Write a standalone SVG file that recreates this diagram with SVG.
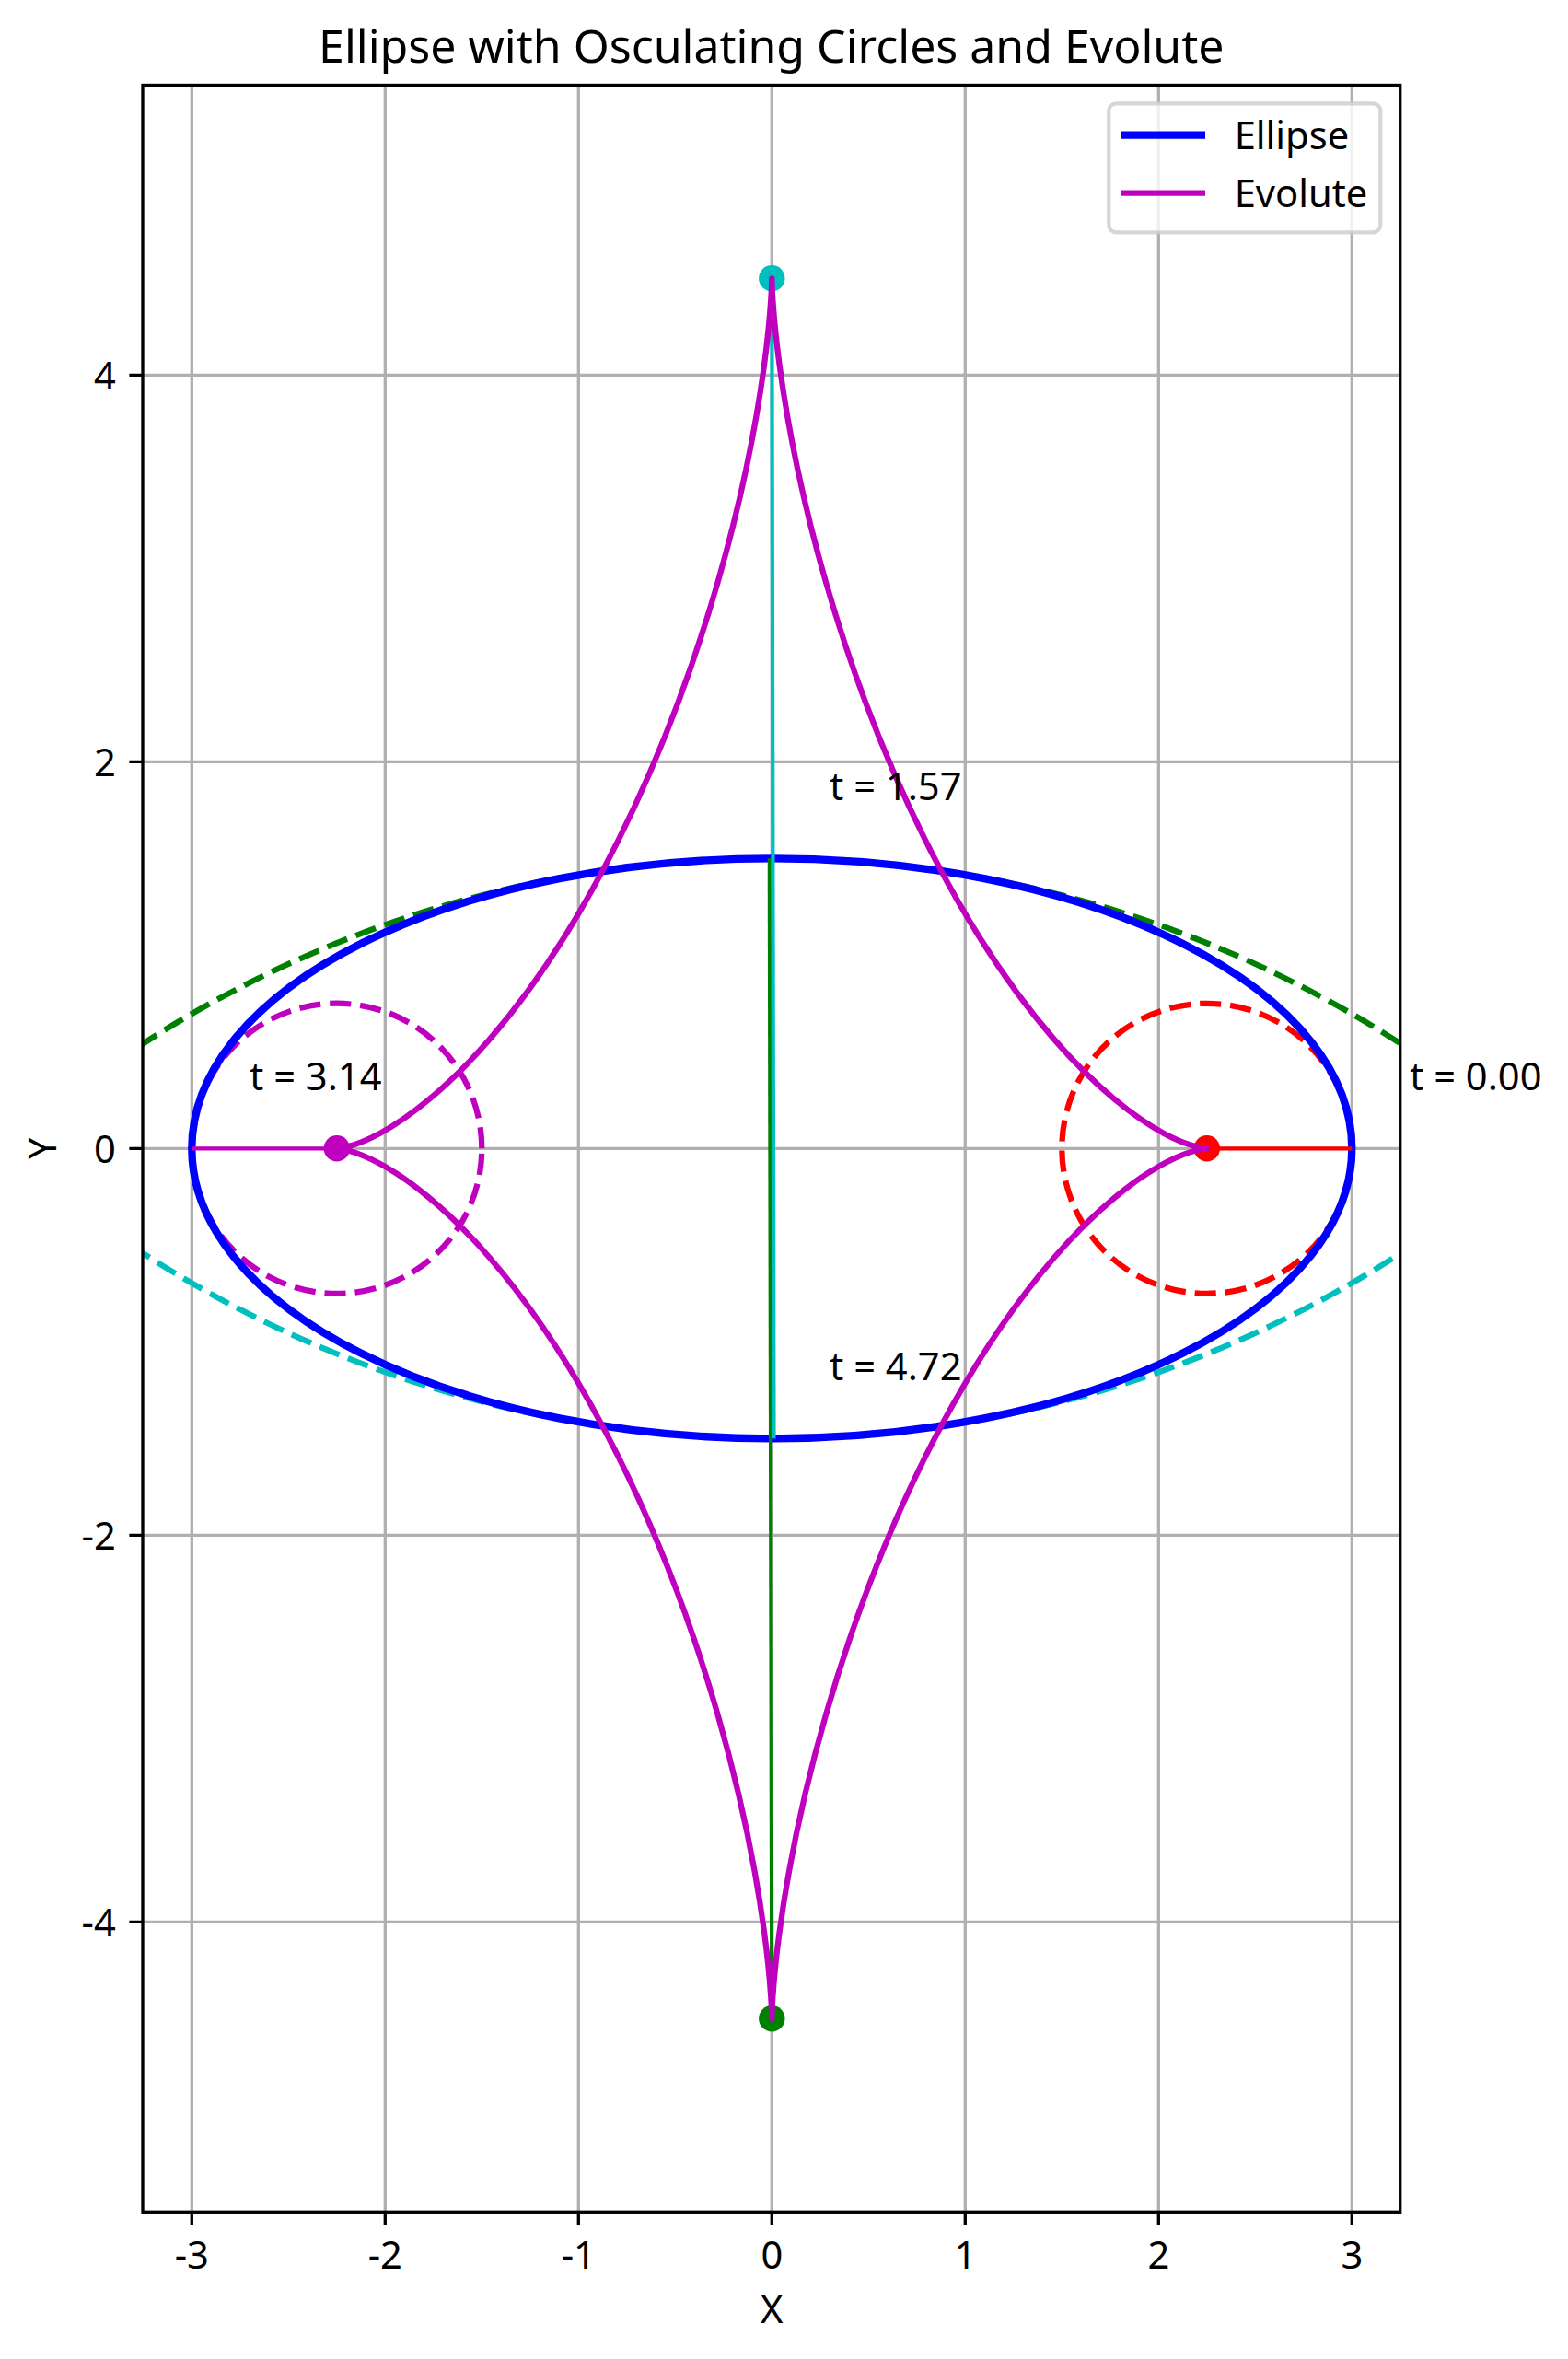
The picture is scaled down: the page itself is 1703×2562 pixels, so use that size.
<svg xmlns="http://www.w3.org/2000/svg" width="1703" height="2562" viewBox="0 0 1703 2562">
<style>
text{font-family:"Noto Sans","Open Sans","DejaVu Sans",sans-serif;fill:#000}
.lbl{font-size:41.67px}
.tx{font-size:41.67px;text-anchor:middle}
.ty{font-size:41.67px;text-anchor:end}
.grid{stroke:#b0b0b0;stroke-width:3.33;fill:none}
.tick{stroke:#000;stroke-width:3.33}
.dash{fill:none;stroke-width:6.25;stroke-dasharray:23.125 10}
.rad{stroke-width:4.17;fill:none}
</style>
<defs>
<clipPath id="ax"><rect x="155" y="92.5" width="1365.7" height="2309.8"/></clipPath>
</defs>
<rect width="1703" height="2562" fill="#fff"/>
<g id="grid">
<path class="grid" d="M208.3 92.5V2402.3M418.3 92.5V2402.3M628.3 92.5V2402.3M838.3 92.5V2402.3M1048.3 92.5V2402.3M1258.3 92.5V2402.3M1468.3 92.5V2402.3M155 407.3H1520.7M155 827.3H1520.7M155 1247.3H1520.7M155 1667.3H1520.7M155 2087.3H1520.7"/>
</g>
<g id="plot" clip-path="url(#ax)">
<g id="osc-circles">
<path class="dash" stroke="#ff0000" d="M1468.3 1247.3A157.5 157.5 0 1 0 1153.3 1247.3A157.5 157.5 0 1 0 1468.3 1247.3"/>
<path class="dash" stroke="#008000" d="M2098.3 2192.3A1260 1260 0 1 0 -421.7 2192.3A1260 1260 0 1 0 2098.3 2192.3"/>
<path class="dash" stroke="#bf00bf" d="M523.3 1247.3A157.5 157.5 0 1 0 208.3 1247.3A157.5 157.5 0 1 0 523.3 1247.3"/>
<path class="dash" stroke="#00bfbf" d="M2098.3 302.3A1260 1260 0 1 0 -421.7 302.3A1260 1260 0 1 0 2098.3 302.3"/>
</g>
<g id="ellipse">
<ellipse cx="838.3" cy="1247.3" rx="630" ry="315" fill="none" stroke="#0000ff" stroke-width="8.33"/>
</g>
<g id="connectors">
<path class="rad" stroke="#ff0000" d="M1468.3 1247.3L1310.8 1247.3"/>
<path class="rad" stroke="#008000" d="M835.8 932.3L838.3 2192.3"/>
<path class="rad" stroke="#bf00bf" d="M208.3 1247.3L365.8 1247.3"/>
<path class="rad" stroke="#00bfbf" d="M840.5 1562.3L838.3 302.3"/>
</g>
<g id="centers">
<circle cx="1310.8" cy="1247.3" r="14.2" fill="#ff0000"/>
<circle cx="838.3" cy="2192.3" r="14.2" fill="#008000"/>
<circle cx="365.8" cy="1247.3" r="14.2" fill="#bf00bf"/>
<circle cx="838.3" cy="302.3" r="14.2" fill="#00bfbf"/>
</g>
<g id="evolute" transform="translate(838.3 1247.3)">
<path fill="none" stroke="#bf00bf" stroke-width="6.25" stroke-linejoin="round" stroke-linecap="round" d="M472.5 0C472.5 0 455.70 0.37 425.83 16.38C395.96 32.39 353.29 64.57 306.90 118.13C260.51 171.69 210.79 246.64 167.05 334.11C123.32 421.58 85.84 521.02 59.06 613.80C32.28 706.58 16.19 791.91 8.19 851.65C0.19 911.39 0 945 0 945C0 945 -0.19 911.39 -8.19 851.65C-16.19 791.91 -32.28 706.58 -59.06 613.80C-85.84 521.02 -123.32 421.58 -167.05 334.11C-210.79 246.64 -260.51 171.69 -306.90 118.13C-353.29 64.57 -395.96 32.39 -425.83 16.38C-455.70 0.37 -472.5 0 -472.5 0C-472.5 0 -455.70 -0.37 -425.83 -16.38C-395.96 -32.39 -353.29 -64.57 -306.90 -118.13C-260.51 -171.69 -210.79 -246.64 -167.05 -334.11C-123.32 -421.58 -85.84 -521.02 -59.06 -613.80C-32.28 -706.58 -16.19 -791.91 -8.19 -851.65C-0.19 -911.39 0 -945 0 -945C0 -945 0.19 -911.39 8.19 -851.65C16.19 -791.91 32.28 -706.58 59.06 -613.80C85.84 -521.02 123.32 -421.58 167.05 -334.11C210.79 -246.64 260.51 -171.69 306.90 -118.13C353.29 -64.57 395.96 -32.39 425.83 -16.38C455.70 -0.37 472.5 0 472.5 0Z"/>
</g>
</g>
<g id="labels">
<text class="lbl" x="1531.3" y="1184.3">t = 0.00</text>
<text class="lbl" x="901.3" y="869.3">t = 1.57</text>
<text class="lbl" x="271.3" y="1184.3">t = 3.14</text>
<text class="lbl" x="901.3" y="1499.3">t = 4.72</text>
</g>
<g id="axes">
<rect x="155" y="92.5" width="1365.7" height="2309.8" fill="none" stroke="#000" stroke-width="3.33" stroke-linejoin="miter"/>
<path class="tick" d="M208.3 2402.3v14.6M418.3 2402.3v14.6M628.3 2402.3v14.6M838.3 2402.3v14.6M1048.3 2402.3v14.6M1258.3 2402.3v14.6M1468.3 2402.3v14.6M155 407.3h-14.6M155 827.3h-14.6M155 1247.3h-14.6M155 1667.3h-14.6M155 2087.3h-14.6"/>
<text class="tx" x="208.3" y="2464">-3</text>
<text class="tx" x="418.3" y="2464">-2</text>
<text class="tx" x="628.3" y="2464">-1</text>
<text class="tx" x="838.3" y="2464">0</text>
<text class="tx" x="1048.3" y="2464">1</text>
<text class="tx" x="1258.3" y="2464">2</text>
<text class="tx" x="1468.3" y="2464">3</text>
<text class="ty" x="125.8" y="422.8">4</text>
<text class="ty" x="125.8" y="842.8">2</text>
<text class="ty" x="125.8" y="1262.8">0</text>
<text class="ty" x="125.8" y="1682.8">-2</text>
<text class="ty" x="125.8" y="2102.8">-4</text>
<text class="tx" x="838.3" y="2522.5">X</text>
<text class="tx" x="61" y="1247.3" transform="rotate(-90 61 1247.3)">Y</text>
<text x="837.8" y="68.3" font-size="50" text-anchor="middle">Ellipse with Osculating Circles and Evolute</text>
</g>
<g id="legend">
<rect x="1204.3" y="112.3" width="295" height="140" rx="8" fill="#fff" fill-opacity="0.8" stroke="#cccccc" stroke-opacity="0.8" stroke-width="4.17"/>
<path d="M1217.7 146.7H1309" stroke="#0000ff" stroke-width="8.33"/>
<path d="M1217.7 209.7H1309" stroke="#bf00bf" stroke-width="6.25"/>
<text class="lbl" x="1340.7" y="161.7">Ellipse</text>
<text class="lbl" x="1340.7" y="225">Evolute</text>
</g>
</svg>
